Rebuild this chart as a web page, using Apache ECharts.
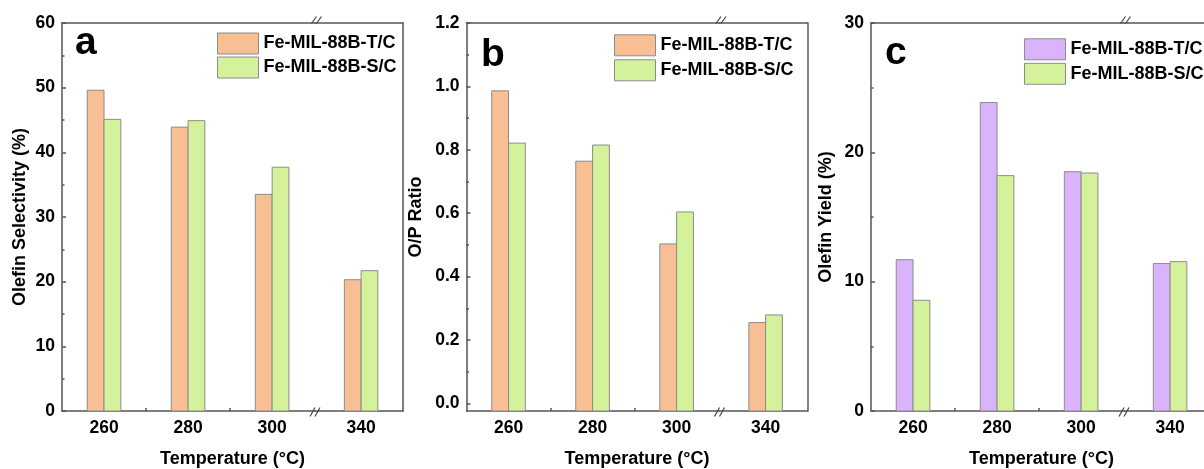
<!DOCTYPE html>
<html><head><meta charset="utf-8">
<script src="https://cdn.jsdelivr.net/npm/echarts@6/dist/echarts.min.js"></script>
<style>html,body{margin:0;padding:0;background:#fff}#c{width:1204px;height:469px}</style>
</head><body><div id="c"></div>
<script>
// ---------------- data ----------------
const categories = [260, 280, 300, 340];
const tickLabels = ['260', '280', '300', '340'];
const seriesNames = ['Fe-MIL-88B-T/C', 'Fe-MIL-88B-S/C'];
const selectivityTC = [49.6, 43.9, 33.5, 20.3];
const selectivitySC = [45.1, 44.9, 37.7, 21.7];
const ratioTC = [0.986, 0.764, 0.503, 0.255];
const ratioSC = [0.821, 0.815, 0.604, 0.279];
const yieldTC = [11.7, 23.85, 18.5, 11.4];
const yieldSC = [8.56, 18.2, 18.4, 11.55];
const yTicksA = [0, 10, 20, 30, 40, 50, 60];
const yTicksB = [0, 0.2, 0.4, 0.6, 0.8, 1.0, 1.2];
const yTicksC = [0, 10, 20, 30];
const yMinorA = [5, 15, 25, 35, 45, 55];
const yMinorB = [0.1, 0.3, 0.5, 0.7, 0.9, 1.1];
const yMinorC = [5, 15, 25];
const xMinorTicks = [270, 290];
const panelLetters = ['a', 'b', 'c'];
const yNames = ['Olefin Selectivity (%)', 'O/P Ratio', 'Olefin Yield (%)'];
const xName = 'Temperature (\u00B0C)';

// ---------------- layout / style ----------------
const SEG1 = [250, 310.2];   // before the axis break
const SEG2 = [329, 350];     // after the axis break
const BAR_W = 4;             // bar width in x-axis units
const FONT = '"Liberation Sans", Arial, sans-serif';
const ORANGE = '#F8BF95', GREEN = '#D3F29B', PURPLE = '#DAB4FB';
const BORDER = '#8c8c8c';
const LINE = { color: '#555', width: 1.5 };

const panels = [
  { left: 62,    y: [0, 60],       ticks: yTicksA, minor: yMinorA, fmt: v => String(v),  tc: selectivityTC, sc: selectivitySC, colors: [ORANGE, GREEN],  legend: [217, 32.5, 2], nameGap: 33,  letter: [75, 56.5] },
  { left: 466.5, y: [-0.024, 1.2], ticks: yTicksB, minor: yMinorB, fmt: v => v.toFixed(1), tc: ratioTC,  sc: ratioSC,  colors: [ORANGE, GREEN],  legend: [614, 34.3, 3], nameGap: 41,  letter: [481, 69] },
  { left: 871,   y: [0, 30],       ticks: yTicksC, minor: yMinorC, fmt: v => String(v),  tc: yieldTC,  sc: yieldSC,  colors: [PURPLE, GREEN], legend: [1024, 38.3, 2.5], nameGap: 35.5, letter: [885, 66.7] }
];
const GRID_TOP = 23, GRID_H = 388, W1 = 253, W2 = 88;

function barItem(side, yBase) {
  return function (params, api) {
    const x = api.value(0), v = api.value(1);
    const top = api.coord([x, v]);
    const base = api.coord([x, yBase]);
    const w = api.size([BAR_W, 0])[0];
    return {
      type: 'rect',
      shape: { x: side < 0 ? top[0] - w : top[0], y: top[1], width: w, height: base[1] - top[1] },
      style: { fill: api.visual('color'), stroke: BORDER, lineWidth: 1 }
    };
  };
}
function breakItem(params, api) {
  const p = api.coord([api.value(0), api.value(1)]);
  const isTop = params.dataIndex === 0;
  const cx = p[0] + (isTop ? 1.5 : 0), cy = p[1] + (isTop ? -3 : 1);
  const h = isTop ? 3.5 : 4.5;
  return {
    type: 'group',
    children: [-2.5, 2.5].map(d => ({
      type: 'line',
      shape: { x1: cx + d - 2.5, y1: cy + h, x2: cx + d + 2.5, y2: cy - h },
      style: { stroke: '#444', lineWidth: 1.2 }
    }))
  };
}

const grid = [], xAxis = [], yAxis = [], series = [], legend = [], graphic = [];
const txt = (size) => ({ fontFamily: FONT, fontWeight: 'bold', fontSize: size, color: '#000' });

panels.forEach((p, i) => {
  grid.push({ left: p.left, top: GRID_TOP, width: W1, height: GRID_H, containLabel: false, outerBoundsMode: 'none' });
  grid.push({ left: p.left + W1, top: GRID_TOP, width: W2, height: GRID_H, containLabel: false, outerBoundsMode: 'none' });
  const gL = 2 * i, gR = 2 * i + 1;
  const leftCats = categories.filter(c => c < SEG1[1]);
  const rightCats = categories.filter(c => c > SEG2[0]);
  const fmtX = v => tickLabels[categories.indexOf(v)];

  xAxis.push({ type: 'value', gridIndex: gL, position: 'bottom', min: SEG1[0], max: SEG1[1],
    axisLine: { show: true, onZero: false, lineStyle: LINE },
    axisTick: { show: true, inside: true, length: 3, customValues: xMinorTicks, lineStyle: LINE },
    axisLabel: { show: true, customValues: leftCats, formatter: fmtX, margin: 8, ...txt(17.5) },
    splitLine: { show: false } });
  xAxis.push({ type: 'value', gridIndex: gL, position: 'top', min: SEG1[0], max: SEG1[1],
    axisLine: { show: true, onZero: false, lineStyle: LINE }, axisTick: { show: false }, axisLabel: { show: false }, splitLine: { show: false } });
  xAxis.push({ type: 'value', gridIndex: gR, position: 'bottom', min: SEG2[0], max: SEG2[1],
    axisLine: { show: true, onZero: false, lineStyle: LINE }, axisTick: { show: false },
    axisLabel: { show: true, customValues: rightCats, formatter: fmtX, margin: 8, ...txt(17.5) },
    splitLine: { show: false } });
  xAxis.push({ type: 'value', gridIndex: gR, position: 'top', min: SEG2[0], max: SEG2[1],
    axisLine: { show: true, onZero: false, lineStyle: LINE }, axisTick: { show: false }, axisLabel: { show: false }, splitLine: { show: false } });

  yAxis.push({ type: 'value', gridIndex: gL, position: 'left', min: p.y[0], max: p.y[1],
    name: yNames[i], nameLocation: 'middle', nameGap: p.nameGap, nameTextStyle: txt(18),
    axisLine: { show: true, onZero: false, lineStyle: LINE },
    axisTick: { show: true, inside: true, length: 4, customValues: p.ticks, lineStyle: LINE },
    axisLabel: { show: true, customValues: p.ticks, formatter: p.fmt, margin: 7, ...txt(17.5) },
    splitLine: { show: false } });
  yAxis.push({ type: 'value', gridIndex: gL, position: 'left', min: p.y[0], max: p.y[1],
    axisLine: { show: false }, axisTick: { show: true, inside: true, length: 2.5, customValues: p.minor, lineStyle: LINE },
    axisLabel: { show: false }, splitLine: { show: false } });
  yAxis.push({ type: 'value', gridIndex: gR, position: 'right', min: p.y[0], max: p.y[1],
    axisLine: { show: true, onZero: false, lineStyle: LINE }, axisTick: { show: false }, axisLabel: { show: false }, splitLine: { show: false } });

  const vals = [p.tc, p.sc];
  [0, 1].forEach(s => {
    const pts = categories.map((c, k) => [c, vals[s][k]]);
    series.push({ type: 'custom', name: seriesNames[s], xAxisIndex: 4 * i, yAxisIndex: 3 * i,
      itemStyle: { color: p.colors[s] }, renderItem: barItem(s === 0 ? -1 : 1, p.y[0]),
      encode: { x: 0, y: 1 }, data: pts.filter(d => d[0] < SEG1[1]), silent: true });
    series.push({ type: 'custom', name: seriesNames[s], xAxisIndex: 4 * i + 2, yAxisIndex: 3 * i + 2,
      itemStyle: { color: p.colors[s] }, renderItem: barItem(s === 0 ? -1 : 1, p.y[0]),
      encode: { x: 0, y: 1 }, data: pts.filter(d => d[0] > SEG2[0]), silent: true });
  });
  series.push({ type: 'custom', xAxisIndex: 4 * i, yAxisIndex: 3 * i, clip: false, silent: true, z: 10,
    renderItem: breakItem, encode: { x: 0, y: 1 }, data: [[SEG1[1], p.y[1]], [SEG1[1], p.y[0]]] });

  legend.push({ orient: 'vertical', left: p.legend[0], top: p.legend[1], itemWidth: 41, itemHeight: 21, itemGap: p.legend[2],
    icon: 'rect', selectedMode: false, padding: 0, textStyle: txt(18),
    data: seriesNames.map((n, s) => ({ name: n, itemStyle: { color: p.colors[s], borderColor: BORDER, borderWidth: 1 } })) });

  graphic.push({ type: 'text', x: p.letter[0], y: p.letter[1] - 13.5,
    style: { text: panelLetters[i], font: 'bold 39px ' + FONT, fill: '#000', align: 'left', verticalAlign: 'middle' } });
  graphic.push({ type: 'text', x: p.left + (W1 + W2) / 2, y: 459.5,
    style: { text: xName, font: 'bold 18px ' + FONT, fill: '#000', align: 'center', verticalAlign: 'middle' } });
});

const chart = echarts.init(document.getElementById('c'), null, { renderer: 'canvas' });
chart.setOption({ backgroundColor: '#fff', animation: false, grid, xAxis, yAxis, series, legend, graphic });
</script>
</body></html>
